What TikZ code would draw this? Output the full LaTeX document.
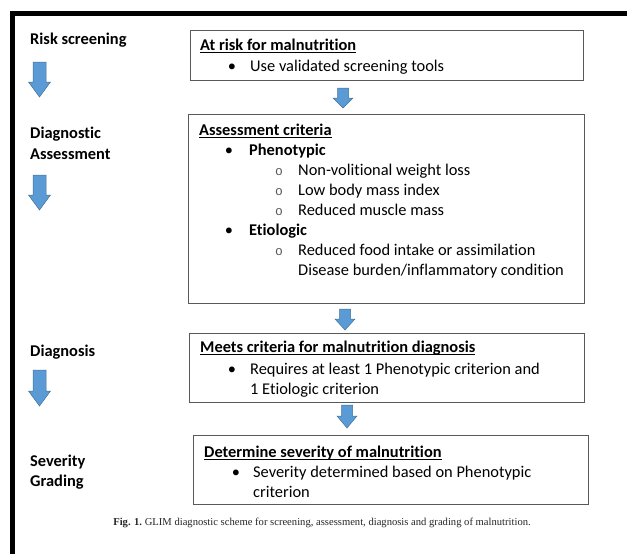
\documentclass[tikz,border=0pt]{standalone}
\usepackage{fontspec}
\setmainfont[Ligatures=NoCommon]{Carlito}
\newfontfamily\capfont{Liberation Serif}
\newfontfamily\circfont{Liberation Mono}
\definecolor{arrowfill}{HTML}{5B9BD5}
\definecolor{arrowline}{HTML}{41719C}
\newcommand\ulin[1]{\setbox0\hbox{#1}\rlap{\rule[-2.6pt]{\wd0}{0.9pt}}\box0}
\newcommand\blockarrow[6]{% x, ytop, yhead, ytip, shaft half, head half
  \fill[arrowfill,draw=arrowline,line width=0.5pt,line join=miter]
    (#1-#5,#2) -- (#1+#5,#2) -- (#1+#5,#3) -- (#1+#6,#3) -- (#1,#4)
    -- (#1-#6,#3) -- (#1-#5,#3) -- cycle;}
\begin{document}
\begin{tikzpicture}[x=1pt,y=-1pt,
  boxst/.style={draw=black!65,line width=1.1pt,inner sep=0pt,anchor=north west,fill=none},
  txt/.style={anchor=base west,inner sep=0pt,font=\fontsize{16.4}{20}\selectfont},
  btxt/.style={txt,font=\fontsize{16.4}{20}\selectfont\bfseries},
  bul/.style={anchor=base,inner sep=0pt,font=\fontsize{16.4}{20}\selectfont},
  cbul/.style={anchor=base,inner sep=0pt,text=black!65,font=\fontsize{13}{20}\circfont}]
\useasboundingbox (0,0) rectangle (627,554);
\fill[white] (0,0) rectangle (627,554);
% frame
\draw[line width=5pt,line cap=butt] (12.5,554) -- (12.5,13.5) -- (627,13.5);
% boxes
\node[boxst,minimum width=393pt,minimum height=50.5pt] (b1) at (190,29.5) {};
\node[boxst,minimum width=396pt,minimum height=189pt] (b2) at (188,114) {};
\node[boxst,minimum width=395pt,minimum height=69pt] (b3) at (189,333) {};
\node[boxst,minimum width=395pt,minimum height=69pt] (b4) at (193,435) {};
% left labels
\node[btxt] (l1) at (30,45) {Risk screening};
\node[btxt] (l2a) at (30,138) {Diagnostic};
\node[btxt] (l2b) at (30,159.5) {Assessment};
\node[btxt] (l3) at (30,356) {Diagnosis};
\node[btxt] (l4a) at (30,466.5) {Severity};
\node[btxt] (l4b) at (30,486.5) {Grading};
% left arrows
\blockarrow{39.5}{62}{82}{97}{6.5}{11}
\blockarrow{39.5}{175}{195}{210}{6.5}{11}
\blockarrow{39.5}{370}{391}{406}{6.5}{11}
% between-box arrows
\blockarrow{343}{88}{98}{108}{5.5}{10}
\blockarrow{345}{309}{319}{330}{5.5}{10}
\blockarrow{347}{405}{416}{428}{5.5}{10}
% box 1
\node[btxt] (t1) at (200,50.5) {\ulin{At risk for malnutrition}};
\node[bul] (t1b) at (232,71) {\textbullet};
\node[txt] (t1c) at (250,71) {Use validated screening tools};
% box 2
\node[btxt] (t2) at (199,135) {\ulin{Assessment criteria}};
\node[bul] (t2b1) at (229,155) {\textbullet};
\node[btxt] (t2p) at (249,155) {Phenotypic};
\node[cbul] (t2o1) at (279,175) {o};
\node[txt] (t2p1) at (298,175) {Non-volitional weight loss};
\node[cbul] (t2o2) at (279,195) {o};
\node[txt] (t2p2) at (298,195) {Low body mass index};
\node[cbul] (t2o3) at (279,215) {o};
\node[txt] (t2p3) at (298,215) {Reduced muscle mass};
\node[bul] (t2b2) at (229,235) {\textbullet};
\node[btxt] (t2e) at (249,235) {Etiologic};
\node[cbul] (t2o4) at (279,255) {o};
\node[txt] (t2e1) at (298,255) {Reduced food intake or assimilation};
\node[txt] (t2e2) at (298,275) {Disease burden/inflammatory condition};
% box 3
\node[btxt] (t3) at (200,352.5) {\ulin{Meets criteria for malnutrition diagnosis}};
\node[bul] (t3b) at (232,374.5) {\textbullet};
\node[txt] (t3c) at (250,374.5) {Requires at least 1 Phenotypic criterion and};
\node[txt] (t3d) at (250,394.5) {1 Etiologic criterion};
% box 4
\node[btxt] (t4) at (204,457) {\ulin{Determine severity of malnutrition}};
\node[bul] (t4b) at (236,477) {\textbullet};
\node[txt] (t4c) at (253,477) {Severity determined based on Phenotypic};
\node[txt] (t4d) at (253,497) {criterion};
% caption
\node[anchor=base,inner sep=0pt,text=black!85,font=\fontsize{10.6}{12}\capfont] (cap) at (322,525)
  {\textbf{Fig. 1.}\ GLIM diagnostic scheme for screening, assessment, diagnosis and grading of malnutrition.};
\end{tikzpicture}
\end{document}
